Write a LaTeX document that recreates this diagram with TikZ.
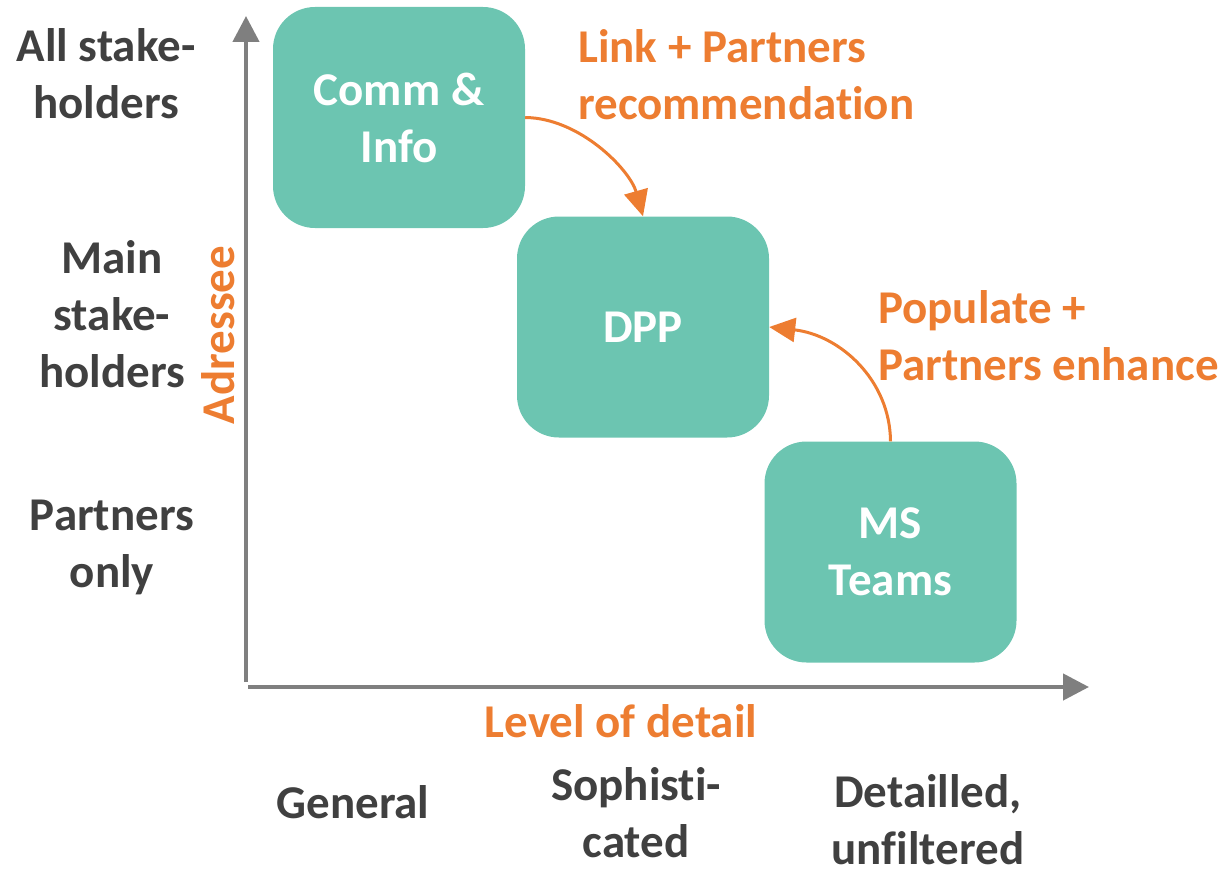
\documentclass[tikz,border=0pt]{standalone}
\usepackage{fontspec}
\setmainfont{Carlito}[RawFeature={-liga;-clig;-dlig;-calt}]
\usetikzlibrary{arrows.meta}
\definecolor{teal}{HTML}{6CC5B1}
\definecolor{orng}{HTML}{ED7D31}
\definecolor{dgray}{HTML}{404040}
\definecolor{agray}{HTML}{7F7F7F}
\tikzset{
  box/.style={fill=teal, draw=none, rounded corners=42pt, minimum width=252pt, minimum height=221pt,
    text=white, align=center, font=\fontsize{47}{57}\selectfont\bfseries, inner sep=0pt},
  axis/.style={draw=agray, line width=4.5pt, -{Triangle[length=26pt,width=26pt]}},
  flow/.style={draw=orng, line width=3pt, -{Triangle[length=26pt,width=24pt]}},
  lbl/.style={text=dgray, align=center, font=\fontsize{47}{57}\selectfont\bfseries, inner sep=0pt, anchor=base},
  olbl/.style={text=orng, font=\fontsize{47}{57}\selectfont\bfseries, inner sep=0pt},
}
\begin{document}
\begin{tikzpicture}[x=1pt,y=-1pt]
\useasboundingbox (0,0) rectangle (1228,872);
% axes
\coordinate (vstart) at (246,682);
\coordinate (vend) at (246,16);
\coordinate (hstart) at (248,687);
\coordinate (hend) at (1089,687);
\draw[axis] (vstart) -- (vend);
\draw[axis] (hstart) -- (hend);
% boxes
\node[box] (comm) at (399,117.5) {Comm \&\\Info};
\node[box] (dpp) at (643,327) {DPP};
\node[box] (ms) at (890.5,552) {MS\\Teams};
% flows
\draw[flow] (comm.east) .. controls (580,118) and (630,170) .. (dpp.north);
\draw[flow] (ms.north) .. controls (890,380) and (840,335) .. (dpp.east);
% flow labels
\node[olbl, anchor=base west, align=left] (linklbl) at (578,120) {Link + Partners\\recommendation};
\node[olbl, anchor=base west, align=left] (poplbl) at (878,380) {Populate +\\Partners enhance};
% axis titles
\node[olbl, rotate=90] (adr) at (218,335) {Adressee};
\node[olbl, anchor=base] (lod) at (621,737) {Level of detail};
% y labels
\node[lbl] (all) at (106,118) {All stake-\\holders};
\node[lbl] (main) at (112,387) {Main\\stake-\\holders};
\node[lbl] (part) at (112,587) {Partners\\only};
% x labels
\node[lbl] (gen) at (353,818) {General};
\node[lbl] (soph) at (636,857) {Sophisti-\\cated};
\node[lbl] (det) at (928,864) {Detailled,\\unfiltered};
\end{tikzpicture}
\end{document}
